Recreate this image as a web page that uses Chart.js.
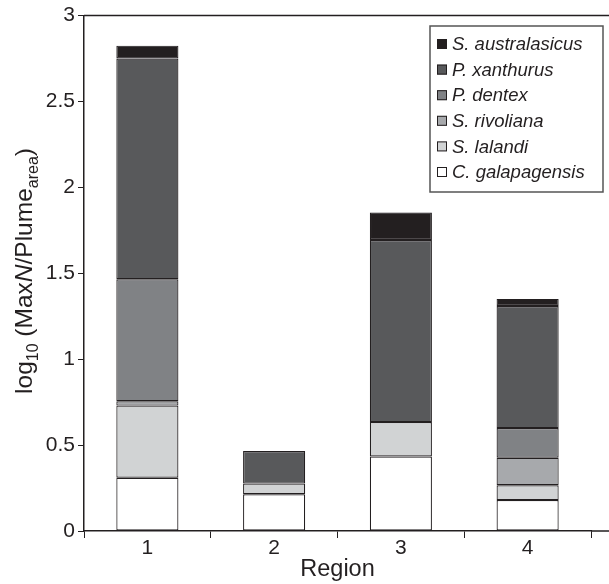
<!DOCTYPE html>
<html>
<head>
<meta charset="utf-8">
<script src="https://cdn.jsdelivr.net/npm/chart.js@4/dist/chart.umd.min.js"></script>
<style>
  html, body { margin: 0; padding: 0; background: #fff; }
  #wrap { width: 609px; height: 584px; position: relative; }
</style>
</head>
<body>
<div id="wrap"><canvas id="region-chart"></canvas></div>
<script>
(function () {
    "use strict";

    const regions = ["1", "2", "3", "4"];
    const yTicks = [0, 0.5, 1, 1.5, 2, 2.5, 3];

    // stacked from the bottom up
    const galapagensis = [0.31, 0.214, 0.434, 0.18];
    const lalandi = [0.42, 0.062, 0.2, 0.086];
    const rivoliana = [0.025, 0, 0, 0.16];
    const dentex = [0.71, 0, 0, 0.173];
    const xanthurus = [1.285, 0.19, 1.06, 0.711];
    const australasicus = [0.075, 0, 0.16, 0.041];

    const ink = "#231f20";
    const font = "'Liberation Sans', Arial, Helvetica, sans-serif";

    const series = [
        { label: "C. galapagensis", data: galapagensis, color: "#ffffff" },
        { label: "S. lalandi", data: lalandi, color: "#d1d3d4" },
        { label: "S. rivoliana", data: rivoliana, color: "#a7a9ac" },
        { label: "P. dentex", data: dentex, color: "#808285" },
        { label: "P. xanthurus", data: xanthurus, color: "#58595b" },
        { label: "S. australasicus", data: australasicus, color: ink },
    ];

    // top frame line + x axis run on to the right edge, as in the figure
    const frameLines = {
        id: "frameLines",
        afterDraw(chart) {
            const { ctx, chartArea } = chart;
            ctx.save();
            ctx.strokeStyle = ink;
            ctx.lineWidth = 1.5;
            ctx.beginPath();
            ctx.moveTo(chartArea.left, chartArea.top);
            ctx.lineTo(chart.width, chartArea.top);
            ctx.moveTo(chartArea.right, chartArea.bottom);
            ctx.lineTo(chart.width, chartArea.bottom);
            ctx.stroke();
            ctx.restore();
        },
    };

    // y title with subscripts: log10 (MaxN/Plume_area)
    const yTitle = {
        id: "yTitle",
        afterDraw(chart) {
            const { ctx } = chart;
            const parts = [
                ["log", "normal", 24.5, 0],
                ["10", "normal", 16, 6],
                [" (Max", "normal", 24.5, 0],
                ["N", "italic", 24.5, 0],
                ["/Plume", "normal", 24.5, 0],
                ["area", "normal", 16, 6],
                [")", "normal", 24.5, 0],
            ];
            ctx.save();
            ctx.translate(24, 271);
            ctx.rotate(-Math.PI / 2);
            ctx.fillStyle = ink;
            ctx.textBaseline = "alphabetic";
            let total = 0;
            parts.forEach((p) => {
                ctx.font = p[1] + " " + p[2] + "px " + font;
                p.push(ctx.measureText(p[0]).width);
                total += p[4];
            });
            let x = -total / 2;
            parts.forEach((p) => {
                ctx.font = p[1] + " " + p[2] + "px " + font;
                ctx.fillText(p[0], x, 8 + p[3]);
                x += p[4];
            });
            ctx.restore();
        },
    };

    // legend box in the upper right, top item first
    const boxLegend = {
        id: "boxLegend",
        afterDraw(chart) {
            const { ctx } = chart;
            const sets = chart.data.datasets.slice().reverse();
            const left = 430, top = 26, w = 173, h = 166, row = 25.6;
            ctx.save();
            ctx.strokeStyle = "#555";
            ctx.lineWidth = 1.5;
            ctx.fillStyle = "#fff";
            ctx.fillRect(left, top, w, h);
            ctx.strokeRect(left, top, w, h);
            ctx.font = "italic 18.5px " + font;
            ctx.textBaseline = "middle";
            sets.forEach((ds, i) => {
                const cy = top + 18 + i * row;
                ctx.fillStyle = ds.backgroundColor;
                ctx.fillRect(437, cy - 5, 10, 10);
                ctx.strokeStyle = ink;
                ctx.lineWidth = 1;
                ctx.strokeRect(437.5, cy - 4.5, 9, 9);
                ctx.fillStyle = ink;
                ctx.fillText(ds.label, 452, cy + 1);
            });
            ctx.restore();
        },
    };

    const ctx = document.getElementById("region-chart").getContext("2d");
    new Chart(ctx, {
        type: "bar",
        data: {
            labels: regions,
            datasets: series.map((s) => ({
                label: s.label,
                data: s.data,
                backgroundColor: s.color,
                borderColor: ink,
                borderWidth: (c) => (c.raw ? 1.2 : 0),
                borderSkipped: false,
                barPercentage: 0.49,
                categoryPercentage: 1,
            })),
        },
        options: {
            responsive: true,
            maintainAspectRatio: false,
            animation: false,
            layout: { padding: { top: 11, right: 18, left: 0, bottom: 0 } },
            plugins: {
                legend: { display: false },
                tooltip: { enabled: false },
            },
            scales: {
                x: {
                    stacked: true,
                    offset: true,
                    grid: {
                        offset: true,
                        drawOnChartArea: false,
                        drawTicks: true,
                        tickLength: 7,
                        color: ink,
                    },
                    border: { color: ink, width: 1.5 },
                    ticks: {
                        color: ink,
                        font: { family: font, size: 21 },
                        padding: -2,
                        maxRotation: 0,
                    },
                    title: {
                        display: true,
                        text: "Region",
                        color: ink,
                        font: { family: font, size: 23.5 },
                        padding: { top: 0, bottom: 0 },
                    },
                    afterFit(scale) { scale.height = 53; },
                },
                y: {
                    stacked: true,
                    min: 0,
                    max: 3,
                    afterBuildTicks(scale) {
                        scale.ticks = yTicks.map((v) => ({ value: v }));
                    },
                    grid: {
                        drawOnChartArea: false,
                        drawTicks: true,
                        tickLength: 6,
                        color: ink,
                    },
                    border: { color: ink, width: 1.5 },
                    ticks: {
                        color: ink,
                        font: { family: font, size: 21 },
                        padding: 3,
                        callback: (v) => String(v),
                    },
                    afterFit(scale) { scale.width = 84; },
                },
            },
        },
        plugins: [frameLines, yTitle, boxLegend],
    });
})();
</script>
</body>
</html>
